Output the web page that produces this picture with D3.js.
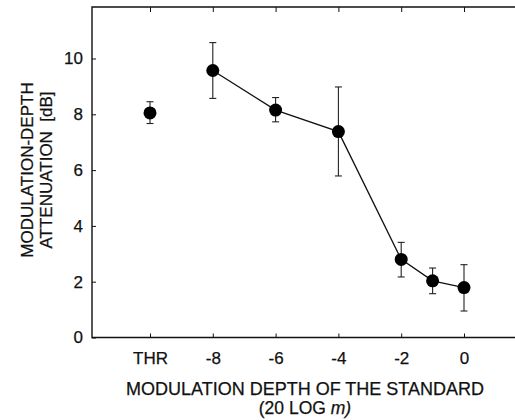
<!DOCTYPE html>
<html>
<head>
<meta charset="utf-8">
<script src="https://cdn.jsdelivr.net/npm/d3@7"></script>
<style>
  body { margin: 0; background: #fff; }
  text { font-family: "Liberation Sans", Arial, sans-serif; fill: #111; stroke: #111; stroke-width: 0.25; }
</style>
</head>
<body>
<div id="app"></div>
<script>
// standard modulation depth (THR is plotted at -10)
const depths = [-10, -8, -6, -4, -2, -1, 0];
const attenuation = [8.05, 9.57, 8.15, 7.38, 2.80, 2.03, 1.79];
const errLow = [7.67, 8.57, 7.73, 5.79, 2.17, 1.57, 0.95];
const errHigh = [8.45, 10.57, 8.60, 8.98, 3.41, 2.49, 2.61];
const xTicks = [-10, -8, -6, -4, -2, 0];
const xTickLabels = ['THR', '-8', '-6', '-4', '-2', '0'];
const yTicks = [0, 2, 4, 6, 8, 10];

const W = 515, H = 420;
const mLeft = 92, mRight = 517, mTop = 7, mBottom = 337.5;

const svg = d3.select('#app')
  .append('svg')
  .attr('width', W)
  .attr('height', H);

const x = d3.scaleLinear().domain([-10, 0]).range([150, 464]);
const y = d3.scaleLinear().domain([0, 10]).range([mBottom, 58.5]);

// frame (right side falls outside the picture)
svg.append('path')
  .attr('d', `M${mRight},${mTop}H${mLeft}V${mBottom}H${mRight}`)
  .attr('fill', 'none')
  .attr('stroke', '#111')
  .attr('stroke-width', 1.4);

// y axis, ticks inside
const yAxis = svg.append('g')
  .attr('transform', `translate(${mLeft},0)`)
  .call(d3.axisLeft(y).tickValues(yTicks).tickSize(-4).tickPadding(9));
yAxis.select('.domain').remove();
yAxis.selectAll('.tick line').attr('stroke', '#111');
yAxis.selectAll('.tick text').attr('font-size', 17).attr('fill', '#111')
  .attr('font-family', '"Liberation Sans", Arial, sans-serif');

// x axis bottom, ticks inside
const xAxis = svg.append('g')
  .attr('transform', `translate(0,${mBottom})`)
  .call(d3.axisBottom(x).tickValues(xTicks).tickSize(-4).tickPadding(14)
    .tickFormat((d, i) => xTickLabels[i]));
xAxis.select('.domain').remove();
xAxis.selectAll('.tick line').attr('stroke', '#111');
xAxis.selectAll('.tick text').attr('font-size', 17).attr('fill', '#111')
  .attr('font-family', '"Liberation Sans", Arial, sans-serif');

// top ticks
const xTop = svg.append('g')
  .attr('transform', `translate(0,${mTop})`)
  .call(d3.axisTop(x).tickValues(xTicks).tickSize(-5).tickFormat(''));
xTop.select('.domain').remove();
xTop.selectAll('.tick line').attr('stroke', '#111');

const pts = depths.map((d, i) => ({
  x: d, y: attenuation[i], lo: errLow[i], hi: errHigh[i]
}));

// line joins the measured depths, not THR
const line = d3.line().x(d => x(d.x)).y(d => y(d.y));
svg.append('path')
  .datum(pts.slice(1))
  .attr('d', line)
  .attr('fill', 'none')
  .attr('stroke', '#111')
  .attr('stroke-width', 1.3);

// error bars
const eb = svg.append('g').attr('stroke', '#222').attr('stroke-width', 1.1);
pts.forEach(p => {
  eb.append('line')
    .attr('x1', x(p.x)).attr('x2', x(p.x))
    .attr('y1', y(p.lo)).attr('y2', y(p.hi));
  [p.lo, p.hi].forEach(v => {
    eb.append('line')
      .attr('x1', x(p.x) - 3.5).attr('x2', x(p.x) + 3.5)
      .attr('y1', y(v)).attr('y2', y(v));
  });
});

// markers
svg.append('g')
  .selectAll('circle')
  .data(pts)
  .join('circle')
  .attr('cx', d => x(d.x))
  .attr('cy', d => y(d.y))
  .attr('r', 6.5)
  .attr('fill', '#000');

// axis titles
svg.append('text')
  .attr('x', 305).attr('y', 395)
  .attr('text-anchor', 'middle')
  .attr('font-size', 18)
  .text('MODULATION DEPTH OF THE STANDARD');

const xt2 = svg.append('text')
  .attr('x', 305).attr('y', 414)
  .attr('text-anchor', 'middle')
  .attr('font-size', 17.5);
xt2.append('tspan').text('(20 LOG ');
xt2.append('tspan').attr('font-style', 'italic').text('m)');

const yt = svg.append('text')
  .attr('transform', 'translate(33,170) rotate(-90)')
  .attr('text-anchor', 'middle')
  .attr('font-size', 17)
  .style('white-space', 'pre');
yt.append('tspan').attr('x', 0).attr('y', 0).text('MODULATION-DEPTH');
yt.append('tspan').attr('x', 0).attr('y', 18.5).text('ATTENUATION  [dB]');
</script>
</body>
</html>
